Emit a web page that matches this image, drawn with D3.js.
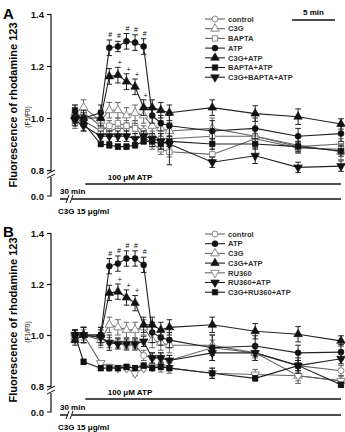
<!DOCTYPE html>
<html>
<head>
<meta charset="utf-8">
<script src="https://cdn.jsdelivr.net/npm/d3@7"></script>
<style>
  html, body { margin: 0; padding: 0; background: #fff; }
  svg { font-family: Arial, "Liberation Sans", sans-serif; font-weight: bold; }
</style>
</head>
<body>
<script>
// time points (min)
const times = [0, 1, 3, 4, 5, 6, 7, 8, 9, 10, 11, 16, 21, 26, 31];
const yTicks = [0.8, 1.0, 1.2, 1.4];

// panel A
const aNames = ["control", "C3G", "BAPTA", "ATP", "C3G+ATP", "BAPTA+ATP", "C3G+BAPTA+ATP"];
const aControl = [1.00, 1.02, 0.97, 0.95, 0.96, 0.96, 0.97, 0.95, 0.93, 0.92, 0.92, 0.93, 0.93, 0.89, 0.90];
const aC3G = [1.02, 1.04, 0.99, 1.03, 1.03, 1.01, 1.02, 1.01, 0.97, 0.96, 0.95, 0.96, 0.93, 0.895, 0.87];
const aBAPTA = [0.98, 0.99, 0.95, 0.97, 0.98, 0.97, 0.96, 0.93, 0.90, 0.88, 0.87, 0.86, 0.92, 0.885, 0.88];
const aATP = [1.00, 1.00, 1.02, 1.27, 1.275, 1.295, 1.29, 1.275, 1.01, 0.98, 0.97, 0.95, 0.96, 0.93, 0.94];
const aC3GATP = [1.01, 1.00, 1.00, 1.16, 1.165, 1.14, 1.12, 1.04, 1.04, 1.03, 1.02, 1.04, 1.017, 1.005, 0.977];
const aBAPTAATP = [1.03, 0.98, 0.90, 0.895, 0.89, 0.89, 0.895, 0.91, 0.91, 0.90, 0.91, 0.90, 0.90, 0.89, 0.873];
const aC3GBAPTAATP = [0.99, 0.97, 0.93, 0.93, 0.93, 0.93, 0.92, 0.93, 0.92, 0.91, 0.90, 0.83, 0.855, 0.81, 0.815];
const aErr = [
  [0.02, 0.02, 0.03, 0.02, 0.02, 0.02, 0.02, 0.02, 0.02, 0.02, 0.03, 0.03, 0.02, 0.02, 0.02],
  [0.03, 0.03, 0.03, 0.03, 0.03, 0.03, 0.03, 0.03, 0.03, 0.03, 0.03, 0.04, 0.03, 0.03, 0.03],
  [0.02, 0.02, 0.02, 0.02, 0.02, 0.02, 0.02, 0.02, 0.02, 0.02, 0.02, 0.02, 0.02, 0.02, 0.02],
  [0.02, 0.03, 0.03, 0.03, 0.02, 0.03, 0.03, 0.03, 0.03, 0.03, 0.04, 0.04, 0.04, 0.03, 0.03],
  [0.02, 0.02, 0.03, 0.03, 0.03, 0.03, 0.03, 0.03, 0.03, 0.03, 0.03, 0.03, 0.03, 0.03, 0.02],
  [0.02, 0.03, 0.01, 0.01, 0.01, 0.01, 0.01, 0.01, 0.02, 0.02, 0.02, 0.02, 0.02, 0.02, 0.02],
  [0.02, 0.02, 0.02, 0.02, 0.02, 0.02, 0.02, 0.02, 0.02, 0.03, 0.08, 0.02, 0.03, 0.02, 0.02]
];

// panel B
const bNames = ["control", "ATP", "C3G", "C3G+ATP", "RU360", "RU360+ATP", "C3G+RU360+ATP"];
const bControl = [1.00, 1.00, 0.99, 0.97, 0.97, 0.96, 0.96, 0.92, 0.91, 0.91, 0.90, 0.95, 0.93, 0.88, 0.86];
const bATP = [1.00, 1.00, 1.00, 1.27, 1.28, 1.30, 1.30, 1.275, 1.01, 0.99, 0.98, 0.95, 0.957, 0.93, 0.933];
const bC3G = [0.99, 1.00, 0.98, 1.04, 1.03, 1.02, 1.02, 1.03, 0.98, 0.97, 0.96, 0.96, 0.93, 0.84, 0.82];
const bC3GATP = [0.98, 1.00, 1.00, 1.165, 1.17, 1.147, 1.125, 1.04, 1.04, 1.02, 1.03, 1.04, 1.015, 1.003, 0.977];
const bRU360 = [0.99, 1.00, 0.89, 0.875, 0.87, 0.87, 0.85, 0.87, 0.875, 0.875, 0.87, 0.85, 0.845, 0.84, 0.82];
const bRU360ATP = [1.00, 1.00, 0.99, 0.97, 0.965, 0.965, 0.965, 0.975, 0.91, 0.91, 0.90, 0.93, 0.93, 0.88, 0.907];
const bC3GRU360ATP = [1.00, 0.895, 0.87, 0.87, 0.87, 0.875, 0.87, 0.88, 0.87, 0.875, 0.87, 0.85, 0.83, 0.88, 0.805];
const bErr = [
  [0.02, 0.02, 0.02, 0.02, 0.02, 0.02, 0.02, 0.02, 0.02, 0.02, 0.02, 0.03, 0.02, 0.02, 0.02],
  [0.02, 0.03, 0.03, 0.03, 0.03, 0.03, 0.03, 0.03, 0.04, 0.03, 0.03, 0.05, 0.04, 0.03, 0.03],
  [0.02, 0.03, 0.03, 0.03, 0.03, 0.03, 0.03, 0.03, 0.03, 0.03, 0.03, 0.04, 0.03, 0.03, 0.02],
  [0.02, 0.03, 0.03, 0.03, 0.03, 0.03, 0.03, 0.03, 0.03, 0.03, 0.03, 0.03, 0.03, 0.03, 0.02],
  [0.02, 0.03, 0.01, 0.01, 0.01, 0.01, 0.01, 0.01, 0.01, 0.02, 0.02, 0.02, 0.02, 0.02, 0.02],
  [0.02, 0.03, 0.03, 0.03, 0.02, 0.02, 0.02, 0.02, 0.02, 0.02, 0.02, 0.03, 0.03, 0.03, 0.02],
  [0.02, 0.01, 0.01, 0.01, 0.01, 0.01, 0.01, 0.01, 0.01, 0.01, 0.01, 0.02, 0.01, 0.02, 0.01]
];

// marker style per series: symbol, open?
const aMarks = [["circle", true], ["tri", true], ["square", true], ["circle", false], ["tri", false], ["square", false], ["tridown", false]];
const bMarks = [["circle", true], ["circle", false], ["tri", true], ["tri", false], ["tridown", true], ["tridown", false], ["square", false]];

const W = 345, H = 432;
const svg = d3.select("body").append("svg")
  .attr("width", W).attr("height", H)
  .attr("viewBox", `0 0 ${W} ${H}`);

const x = d3.scaleLinear().domain([0, 31]).range([75, 341]);

function symbolPath(kind) {
  if (kind === "circle") return d3.symbol(d3.symbolCircle, 28)();
  if (kind === "square") return d3.symbol(d3.symbolSquare, 30)();
  return d3.symbol(d3.symbolTriangle, 32)();
}

function drawMarker(sel, kind, open) {
  sel.append("path")
    .attr("d", symbolPath(kind))
    .attr("transform", kind === "tridown" ? "rotate(180)" : null)
    .attr("fill", open ? "#fff" : "#111")
    .attr("stroke", open ? "#8a8a8a" : "#111")
    .attr("stroke-width", open ? 1 : 0.6);
}

function drawPanel(cfg) {
  const g = svg.append("g");
  const y = d3.scaleLinear().domain([0.8, 1.4]).range([cfg.y08, cfg.y14]);
  const ax = 51;

  // panel letter
  g.append("text").attr("x", 3).attr("y", cfg.letterY)
    .attr("font-size", 15).text(cfg.letter);

  // y label
  g.append("text")
    .attr("transform", `translate(17,${cfg.labelY}) rotate(-90)`)
    .attr("text-anchor", "middle").attr("font-size", 11)
    .text("Fluorescence of rhodamine 123");
  g.append("text")
    .attr("transform", `translate(30,${cfg.labelY + 12}) rotate(-90)`)
    .attr("text-anchor", "middle").attr("font-size", 6.5).attr("font-weight", "normal")
    .text("(F1/F0)");

  // y axis
  const yAxis = d3.axisLeft(y).tickValues(yTicks).tickFormat(d3.format(".1f")).tickSize(4).tickPadding(3);
  const ga = g.append("g").attr("transform", `translate(${ax},0)`).call(yAxis);
  ga.select(".domain").attr("d", `M0,${cfg.y14}V${cfg.y08 + 2}`).attr("stroke", "#111").attr("stroke-width", 1.2);
  ga.selectAll(".tick line").attr("stroke", "#111").attr("stroke-width", 1.2);
  ga.selectAll(".tick text").attr("font-size", 9.5).attr("font-weight", "bold")
    .attr("font-family", "Arial, 'Liberation Sans', sans-serif").attr("fill", "#111");

  // axis below the break down to 0.0
  const y0 = cfg.y00;
  g.append("path").attr("d", `M${ax},${cfg.y08 + 7}V${y0}H${ax - 4}`)
    .attr("fill", "none").attr("stroke", "#111").attr("stroke-width", 1.2);
  g.append("text").attr("x", ax - 7).attr("y", y0 + 3.5).attr("text-anchor", "end")
    .attr("font-size", 9.5).attr("fill", "#111").text("0.0");
  // break marks
  [cfg.y08 + 2, cfg.y08 + 6].forEach(v => {
    g.append("line").attr("x1", ax - 4).attr("x2", ax + 4).attr("y1", v + 2).attr("y2", v - 2)
      .attr("stroke", "#111").attr("stroke-width", 1);
  });

  // ATP bar
  g.append("line").attr("x1", x(1.2)).attr("x2", x(31)).attr("y1", cfg.atpY).attr("y2", cfg.atpY)
    .attr("stroke", "#111").attr("stroke-width", 1.5);
  g.append("text").attr("x", 130).attr("y", cfg.atpY - 4).attr("text-anchor", "middle")
    .attr("font-size", 8).html("100 &#956;M ATP");

  // C3G bar with // break
  const cy = cfg.c3gY;
  g.append("line").attr("x1", 60).attr("x2", x(31)).attr("y1", cy).attr("y2", cy)
    .attr("stroke", "#111").attr("stroke-width", 1.5);
  g.append("rect").attr("x", 68).attr("y", cy - 2).attr("width", 4).attr("height", 4).attr("fill", "#fff");
  [67.5, 71.5].forEach(v => {
    g.append("line").attr("x1", v - 1.5).attr("x2", v + 1.5).attr("y1", cy + 4).attr("y2", cy - 4)
      .attr("stroke", "#111").attr("stroke-width", 1);
  });
  g.append("text").attr("x", 60).attr("y", cy - 5).attr("font-size", 8).text("30 min");
  g.append("text").attr("x", 58).attr("y", cy + 15).attr("font-size", 8).html("C3G 15 &#956;g/ml");

  // series
  const order = cfg.series.map((s, i) => i).sort((a, b) => (cfg.marks[b][1] ? 1 : 0) - (cfg.marks[a][1] ? 1 : 0));
  const line = d3.line().x((d, i) => x(times[i])).y(d => y(d));
  order.forEach(i => {
    const vals = cfg.series[i], err = cfg.err[i];
    const [kind, open] = cfg.marks[i];
    const sg = g.append("g");
    sg.append("path").attr("d", line(vals)).attr("fill", "none")
      .attr("stroke", open ? "#666" : "#222").attr("stroke-width", 1.1);
    const pts = sg.selectAll(".pt").data(vals).enter().append("g")
      .attr("transform", (d, k) => `translate(${x(times[k])},${y(d)})`);
    pts.append("path")
      .attr("d", (d, k) => {
        const up = y(d + err[k]) - y(d), dn = y(d - err[k]) - y(d);
        return `M0,${up}V${dn}M-2.8,${up}H2.8M-2.8,${dn}H2.8`;
      })
      .attr("stroke", open ? "#666" : "#222").attr("stroke-width", 1).attr("fill", "none");
    pts.each(function() { drawMarker(d3.select(this), kind, open); });
  });

  // significance marks
  [3, 4, 5, 6, 7].forEach(k => {
    const v = cfg.series[cfg.hashIdx][k] + cfg.err[cfg.hashIdx][k];
    g.append("text").attr("x", x(times[k]) + 1).attr("y", y(v) - 3).attr("text-anchor", "middle")
      .attr("font-size", 7).attr("font-weight", "normal").text("#");
  });
  cfg.plusK.forEach(k => {
    const v = cfg.series[cfg.plusIdx][k] + cfg.err[cfg.plusIdx][k];
    g.append("text").attr("x", x(times[k]) + 2).attr("y", y(v) - 2).attr("text-anchor", "middle")
      .attr("font-size", 7).attr("font-weight", "normal").text("+");
  });

  // legend
  const lg = g.append("g");
  cfg.names.forEach((name, i) => {
    const ly = cfg.legY + i * 9.7;
    const [kind, open] = cfg.marks[i];
    lg.append("line").attr("x1", 205).attr("x2", 225).attr("y1", ly).attr("y2", ly)
      .attr("stroke", open ? "#666" : "#222").attr("stroke-width", 1.1);
    const m = lg.append("g").attr("transform", `translate(215,${ly})`);
    drawMarker(m, kind, open);
    lg.append("text").attr("x", 228).attr("y", ly + 2.7).attr("font-size", 7.6)
      .attr("fill", "#333").text(name);
  });
}

drawPanel({
  letter: "A", letterY: 19, labelY: 105,
  y14: 14, y08: 170, y00: 196, atpY: 184, c3gY: 199, legY: 19,
  names: aNames, marks: aMarks,
  series: [aControl, aC3G, aBAPTA, aATP, aC3GATP, aBAPTAATP, aC3GBAPTAATP],
  err: aErr, hashIdx: 3, plusIdx: 4, plusK: [4, 5, 6, 7]
});

drawPanel({
  letter: "B", letterY: 237, labelY: 320,
  y14: 233, y08: 386, y00: 412, atpY: 399, c3gY: 415, legY: 234,
  names: bNames, marks: bMarks,
  series: [bControl, bATP, bC3G, bC3GATP, bRU360, bRU360ATP, bC3GRU360ATP],
  err: bErr, hashIdx: 1, plusIdx: 3, plusK: [4, 5, 6]
});

// 5 min scale bar
svg.append("line").attr("x1", x(25.3)).attr("x2", x(30.3)).attr("y1", 20).attr("y2", 20)
  .attr("stroke", "#111").attr("stroke-width", 1.5);
svg.append("text").attr("x", x(27.8)).attr("y", 15).attr("text-anchor", "middle")
  .attr("font-size", 8).text("5 min");
</script>
</body>
</html>
